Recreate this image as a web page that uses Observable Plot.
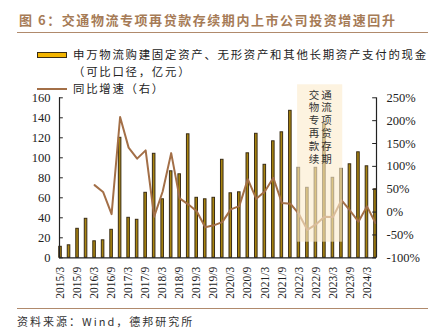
<!DOCTYPE html>
<html><head><meta charset="utf-8">
<script src="https://cdn.jsdelivr.net/npm/d3@7"></script>
<script src="https://cdn.jsdelivr.net/npm/@observablehq/plot@0.6"></script>
<style>
body{margin:0;background:#fff;width:431px;height:332px;position:relative;font-family:"Noto Sans CJK SC","Noto Sans",sans-serif;color:#222;}
#title{position:absolute;left:19px;top:10px;font-size:13px;line-height:20px;font-weight:bold;color:#a67b56;letter-spacing:1.55px;white-space:nowrap;}
.hr{position:absolute;left:17px;width:411px;height:0;border-top:1.6px solid #b08a6c;}
#chart{position:absolute;left:0;top:80px;}
.leg{position:absolute;left:73px;width:max-content;font-size:11.4px;line-height:17px;letter-spacing:1.75px;white-space:nowrap;color:#222;}
#sw1{position:absolute;left:37px;top:52px;width:28px;height:4px;background:#f2b400;border:1px solid #3a2c14;}
#sw2{position:absolute;left:37px;top:88px;width:30px;height:0;border-top:2px solid #a36f47;}
#src{position:absolute;left:17px;top:313px;font-size:11px;line-height:17px;letter-spacing:2px;white-space:nowrap;color:#333;}
#chart g[aria-label="text"] text{letter-spacing:2px;}
</style>
</head><body>
<div id="title">图 6：交通物流专项再贷款存续期内上市公司投资增速回升</div>
<div class="hr" style="top:32px"></div>
<div id="chart"></div>
<div id="sw1"></div>
<div class="leg" style="top:46px">申万物流购建固定资产、无形资产和其他长期资产支付的现金</div>
<div class="leg" style="top:63px">（可比口径，亿元）</div>
<div id="sw2"></div>
<div class="leg" style="top:80px">同比增速（右）</div>
<div class="hr" style="top:308px"></div>
<div id="src">资料来源：Wind，德邦研究所</div>
<script>
// Quarterly periods
const periods = ["2015/3","2015/6","2015/9","2015/12","2016/3","2016/6","2016/9","2016/12",
  "2017/3","2017/6","2017/9","2017/12","2018/3","2018/6","2018/9","2018/12",
  "2019/3","2019/6","2019/9","2019/12","2020/3","2020/6","2020/9","2020/12",
  "2021/3","2021/6","2021/9","2021/12","2022/3","2022/6","2022/9","2022/12",
  "2023/3","2023/6","2023/9","2023/12","2024/3","2024/6"];
// 购建固定资产等支付的现金（亿元）
const cash = [11, 12.5, 29, 39, 16.5, 17.5, 28, 120, 40, 38, 65, 104, 58.5, 86.5, 83.5, 123.5,
  60, 58.5, 60, 98, 64.5, 65.5, 104.5, 124, 93, 116.5, 125.5, 147, 90, 70, 90, 134,
  80, 89, 93.5, 105.5, 91.5, 68.5];
// 同比增速（%）
const growth = [null, null, null, null, 59, 44, -4.5, 208, 141, 117, 135, -10, 45, 129, 30, 17,
  2, -33, -29, -22, 6, 13, 72, 29, 45, 75, 20, 18.5, -4, -39, -27, -10,
  -11, 26, 3.5, -21, 12.5, -24];
const leftTicks = [0, 20, 40, 60, 80, 100, 120, 140, 160];
const rightTicks = [-100, -50, 0, 50, 100, 150, 200, 250];
const xTickLabels = periods.filter((p, i) => i % 2 === 0);
const shadeStart = "2022/3", shadeEnd = "2023/6";
const shadeLines = ["交通", "物流", "专项", "再贷", "款存", "续期"];

const rows = periods.map((p, i) => ({i, p, v: cash[i], g: growth[i]}));
const toLeft = p => (p + 100) * 160 / 350;
const x0 = -0.12, x1 = 37.12;
const iOf = p => periods.indexOf(p);
const xc = (iOf(shadeStart) + iOf(shadeEnd)) / 2;

const chart = Plot.plot({
  width: 431, height: 225,
  marginTop: 17.3, marginBottom: 47.7, marginLeft: 59, marginRight: 55,
  x: {type: "linear", domain: [x0, x1]},
  y: {domain: [0, 160]},
  style: {fontFamily: '"Liberation Serif", "Times New Roman", serif', fontSize: "12.5px", color: "#222", background: "transparent", overflow: "visible"},
  marks: [
    Plot.rect(rows, {x1: d => d.i - 0.15, x2: d => d.i + 0.15, y1: 0, y2: "v", fill: "#a8840f", stroke: "#3a2c14", strokeWidth: 1}),
    Plot.line(rows.filter(d => d.g != null), {x: "i", y: d => toLeft(d.g), stroke: "#a36f47", strokeWidth: 2}),
    Plot.rect([0], {x1: iOf(shadeStart) - 0.15, x2: iOf(shadeEnd) + 0.15, y1: 15.6, y2: 173, fill: "#fcebcd", fillOpacity: 0.62}),
    Plot.text(shadeLines, {x: xc, dx: 1, y: (d, k) => 162.5 - k * 12.8, text: d => d, fontSize: 10.5, fill: "#333", fontFamily: '"Liberation Serif", "Noto Sans CJK SC", serif'}),
    Plot.ruleY([0], {stroke: "#222", strokeWidth: 1.2}),
    Plot.ruleX([x0, x1], {y1: 0, y2: 160, stroke: "#222", strokeWidth: 1.2}),
    Plot.ruleY(leftTicks, {y: d => d, x1: x0, x2: x0 + 0.45, stroke: "#222"}),
    Plot.ruleY(rightTicks.map(toLeft), {y: d => d, x1: x1 - 0.45, x2: x1, stroke: "#222"}),
    Plot.axisY(leftTicks, {anchor: "left", tickSize: 0, tickPadding: 9, label: null}),
    Plot.axisY(rightTicks.map(toLeft), {anchor: "right", tickSize: 0, tickPadding: 10, label: null,
      tickFormat: d => Math.round(d * 350 / 160 - 100) + "%"}),
    Plot.axisX(xTickLabels.map(iOf), {anchor: "bottom", tickSize: 0, tickPadding: 9, tickRotate: -90, label: null,
      tickFormat: i => periods[i], fontSize: 11.5})
  ]
});
document.getElementById("chart").appendChild(chart);
</script>
</body></html>
